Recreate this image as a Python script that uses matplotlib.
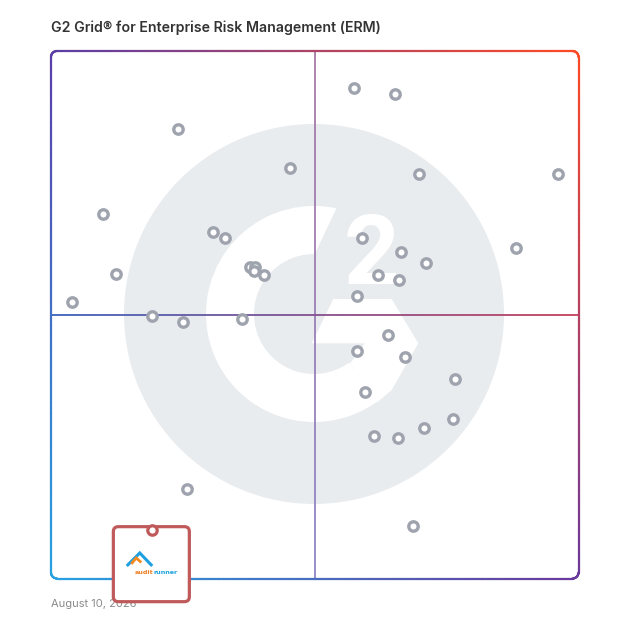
import numpy as np
import matplotlib
matplotlib.use("Agg")
import matplotlib.pyplot as plt
from matplotlib.patches import Circle, Wedge, Polygon, FancyBboxPatch
from matplotlib.collections import LineCollection
from matplotlib.colors import to_rgb

# ---------------- data ----------------
title = "G2 Grid\u00ae for Enterprise Risk Management (ERM)"
date_label = "August 10, 2026"

satisfaction = [24.1, 45.3, 9.9, 30.8, 33.0, 37.7, 38.7, 38.4, 40.3, 12.3,
                3.9, 19.1, 25.0, 36.3, 25.7, 57.4, 65.2, 69.7, 96.2, 59.0,
                66.4, 88.2, 71.1, 61.9, 66.0, 58.1, 63.8, 58.1, 67.2, 76.6,
                59.5, 76.3, 70.7, 61.3, 65.8, 68.6]
market_presence = [85.2, 77.9, 69.1, 65.6, 64.5, 59.1, 59.1, 58.2, 57.5, 57.7,
                   52.5, 49.8, 48.7, 49.1, 17.0, 92.9, 91.9, 76.7, 76.7, 64.6,
                   61.9, 62.7, 59.8, 57.6, 56.5, 53.6, 46.2, 43.1, 41.9, 37.8,
                   35.3, 30.2, 28.5, 27.0, 26.6, 10.0]

highlight_name = ["audit", "runner"]
highlight_satisfaction = 19.1
highlight_market_presence = 9.2

# ---------------- layout ----------------
W = H = 628
fig = plt.figure(figsize=(6.28, 6.28), dpi=100)
fig.patch.set_facecolor("white")

bg = fig.add_axes([0, 0, 1, 1])
bg.set_xlim(0, W)
bg.set_ylim(H, 0)
bg.axis("off")

L, R, T, B = 51, 578.5, 51, 578.5
MX = MY = (L + R) / 2

ax = fig.add_axes([L / W, 1 - B / H, (R - L) / W, (B - T) / H])
ax.set_xlim(0, 100)
ax.set_ylim(0, 100)
ax.axis("off")
ax.patch.set_alpha(0)

# ---------------- G2 background logo ----------------
C = (314, 314)
bg.add_patch(Circle(C, 190, color="#e9ecef", lw=0, zorder=0.5))
bg.add_patch(Wedge(C, 108, 54, 270, width=48, color="white", lw=0, zorder=0.6))
th = np.radians(np.linspace(270, 282, 10))
top_ext = [(C[0], C[1] - 108)] + [(C[0] + 108 * np.cos(t), C[1] + 108 * np.sin(t)) for t in th] + \
          [(315.5, 252.3), (C[0], 252.3)]
bg.add_patch(Polygon(top_ext, closed=True, color="white", lw=0, zorder=0.6))
arrow = [(333.3, 299), (391.7, 299), (418.3, 343.3), (391.7, 390), (377, 402.5),
         (350, 363.5), (365, 343.3), (311.7, 343.3)]
bg.add_patch(Polygon(arrow, closed=True, facecolor="white", edgecolor="none",
                     zorder=0.65))
bg.text(371.7, 283.5, "2", ha="center", va="baseline", fontsize=70,
        fontweight="bold", family="Roboto", color="white", zorder=0.7)

# ---------------- gradient frame ----------------
TL = np.array(to_rgb("#5b3ea8"))
TR = np.array(to_rgb("#ff4a25"))
BL = np.array(to_rgb("#27a2e2"))
BR = np.array(to_rgb("#6b389c"))


def colr(x, y):
    u = (x - L) / (R - L)
    v = (y - T) / (B - T)
    return (1 - u) * (1 - v) * TL + u * (1 - v) * TR + (1 - u) * v * BL + u * v * BR


r = 6
n = 200
pts = []
pts += list(zip(np.linspace(L + r, R - r, n), np.full(n, T)))
a = np.radians(np.linspace(-90, 0, 20))
pts += list(zip(R - r + r * np.cos(a), T + r + r * np.sin(a)))
pts += list(zip(np.full(n, R), np.linspace(T + r, B - r, n)))
a = np.radians(np.linspace(0, 90, 20))
pts += list(zip(R - r + r * np.cos(a), B - r + r * np.sin(a)))
pts += list(zip(np.linspace(R - r, L + r, n), np.full(n, B)))
a = np.radians(np.linspace(90, 180, 20))
pts += list(zip(L + r + r * np.cos(a), B - r + r * np.sin(a)))
pts += list(zip(np.full(n, L), np.linspace(B - r, T + r, n)))
a = np.radians(np.linspace(180, 270, 20))
pts += list(zip(L + r + r * np.cos(a), T + r + r * np.sin(a)))
pts = np.array(pts)
segs = np.stack([pts[:-1], pts[1:]], axis=1)
cols = [colr(*((s[0] + s[1]) / 2)) for s in segs]
bg.add_collection(LineCollection(segs, colors=cols, linewidths=1.6,
                                 capstyle="round", zorder=2))


def grad_line(p0, p1, c0, c1, cm=None):
    t = np.linspace(0, 1, 200)
    xs = p0[0] + (p1[0] - p0[0]) * t
    ys = p0[1] + (p1[1] - p0[1]) * t
    P = np.column_stack([xs, ys])
    sg = np.stack([P[:-1], P[1:]], axis=1)
    c0, c1 = np.array(to_rgb(c0)), np.array(to_rgb(c1))
    cs = []
    for tt in (t[:-1] + t[1:]) / 2:
        if cm is None:
            cs.append(c0 + (c1 - c0) * tt)
        else:
            cmm = np.array(to_rgb(cm))
            if tt < 0.5:
                cs.append(c0 + (cmm - c0) * tt * 2)
            else:
                cs.append(cmm + (c1 - cmm) * (tt - 0.5) * 2)
    bg.add_collection(LineCollection(sg, colors=cs, linewidths=1.3,
                                     capstyle="butt", zorder=1.5))


grad_line((MX, T), (MX, B), "#a97aa6", "#8f86c8", "#9a7fb6")
grad_line((L, MY), (R, MY), "#3b62bd", "#c4405a", "#84508f")

# ---------------- points ----------------
ax.scatter(satisfaction, market_presence, s=46, facecolor="white",
           edgecolor="#9ea3ae", linewidths=2.4, zorder=3)

# ---------------- highlighted card ----------------
px = L + highlight_satisfaction / 100 * (R - L)
py = B - highlight_market_presence / 100 * (B - T)
tr = bg.transData
card = FancyBboxPatch((px - 38.4, py - 3.3), 76, 75,
                      boxstyle="round,pad=0,rounding_size=5",
                      fc="white", ec="#c05a5a", lw=2.3, transform=tr,
                      clip_on=False, zorder=5)
ax.add_patch(card)
ax.scatter([highlight_satisfaction], [highlight_market_presence], s=46,
           facecolor="white", edgecolor="#c05a5a", linewidths=2.3, zorder=6,
           clip_on=False)

# auditrunner mark
cx0, cy0 = px - 25, py + 23
ax.plot([cx0, cx0 + 13, cx0 + 25.5], [cy0 + 13, cy0, cy0 + 13],
        color="#1ea0e0", lw=2.2, transform=tr, clip_on=False, zorder=7,
        solid_capstyle="butt", solid_joinstyle="miter")
ax.plot([cx0 + 4.5, cx0 + 9.5, cx0 + 14.5], [cy0 + 11, cy0 + 5, cy0 + 9.5],
        color="#f58a1f", lw=2.0, transform=tr, clip_on=False, zorder=7,
        solid_capstyle="butt", solid_joinstyle="miter")
t1 = ax.text(px - 17.5, py + 44.5, highlight_name[0], transform=tr, ha="left",
             va="baseline", fontsize=4.6, fontweight="bold",
             family="DejaVu Sans", color="#f07f22", zorder=7, clip_on=False)
ax.annotate(highlight_name[1], xy=(1, 0), xycoords=t1, ha="left",
            va="bottom", fontsize=4.6, fontweight="bold",
            family="DejaVu Sans", color="#1fa3e0", zorder=7,
            annotation_clip=False)

# ---------------- texts ----------------
bg.text(51, 28, title, ha="left", va="center", fontsize=10.2,
        fontweight="semibold", family="Inter", color="#333333", zorder=3)
ax.text(51, 604, date_label, transform=tr, ha="left", va="center",
        fontsize=8, family="Inter", color="#8a8a8a", zorder=1, clip_on=False)

fig.savefig("out.png", dpi=100, facecolor="white")
